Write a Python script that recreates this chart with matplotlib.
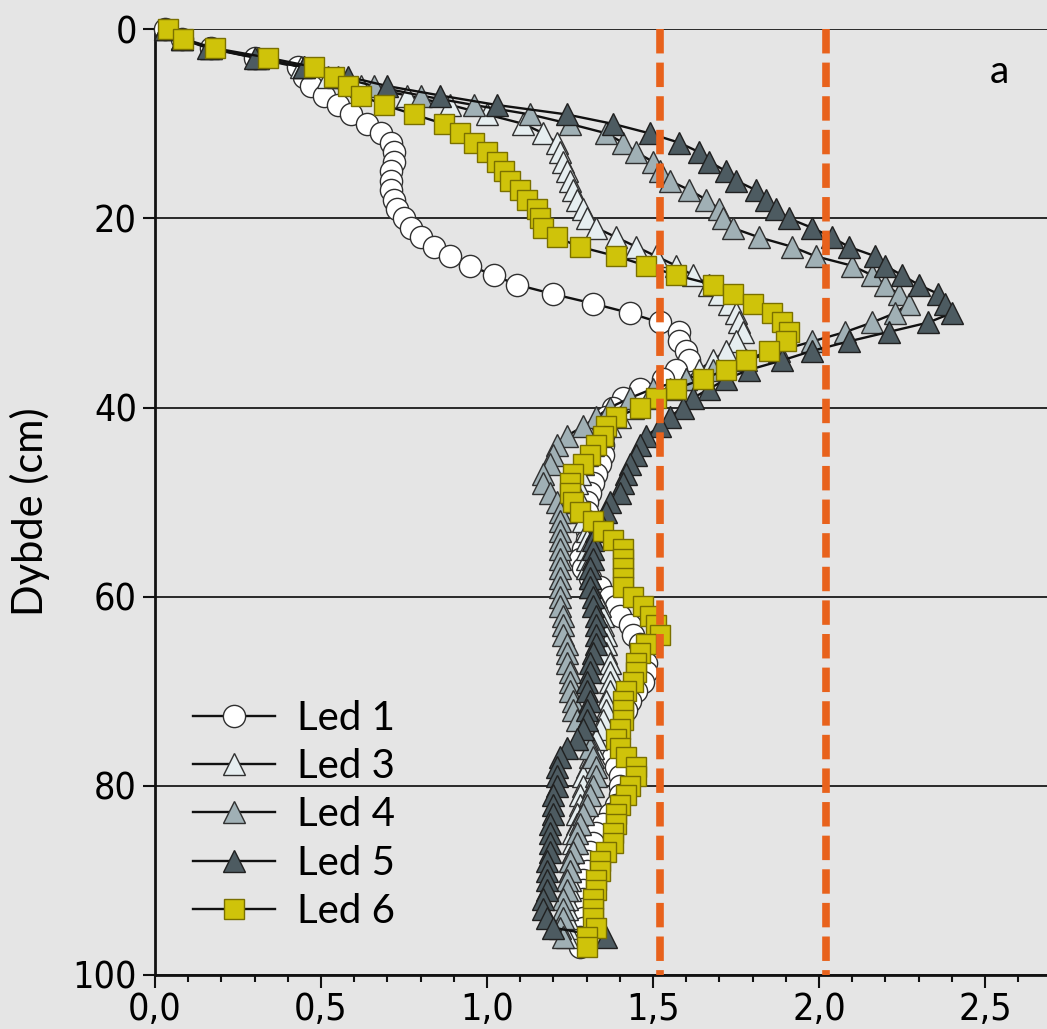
import numpy as np
import matplotlib
matplotlib.use('Agg')
import matplotlib.pyplot as plt
from matplotlib import font_manager
from matplotlib.font_manager import FontProperties
from matplotlib.ticker import MultipleLocator

# --- Data (x per 1 cm depth step) ---
led1 = [0.03, 0.08, 0.17, 0.30, 0.43, 0.45, 0.47, 0.51, 0.55, 0.59,
        0.64, 0.68, 0.71, 0.72, 0.72, 0.71, 0.71, 0.71, 0.72, 0.73,
        0.75, 0.77, 0.80, 0.84, 0.89, 0.95, 1.02, 1.09, 1.20, 1.32,
        1.43, 1.52, 1.58, 1.58, 1.60, 1.61, 1.57, 1.53, 1.46, 1.41,
        1.38, 1.36, 1.35, 1.35, 1.35, 1.35, 1.34, 1.33, 1.32, 1.31,
        1.30, 1.30, 1.30, 1.30, 1.30, 1.29, 1.28, 1.29, 1.31, 1.34,
        1.37, 1.39, 1.40, 1.43, 1.44, 1.46, 1.47, 1.48, 1.48, 1.47,
        1.45, 1.43, 1.42, 1.40, 1.38, 1.38, 1.37, 1.38, 1.39, 1.40,
        1.40, 1.40, 1.39, 1.37, 1.35, 1.33, 1.32, 1.31, 1.30, 1.30,
        1.29, 1.29, 1.29, 1.29, 1.29, 1.29, 1.28, 1.28]

led3 = [0.03, 0.08, 0.17, 0.31, 0.44, 0.52, 0.62, 0.76, 0.89, 1.00,
        1.11, 1.17, 1.21, 1.22, 1.23, 1.24, 1.25, 1.26, 1.27, 1.29,
        1.30, 1.33, 1.39, 1.45, 1.51, 1.57, 1.62, 1.67, 1.70, 1.73,
        1.75, 1.76, 1.77, 1.75, 1.72, 1.68, 1.64, 1.60, 1.55, 1.49,
        1.44, 1.40, 1.37, 1.34, 1.32, 1.30, 1.29, 1.28, 1.27, 1.27,
        1.27, 1.28, 1.29, 1.30, 1.30, 1.30, 1.30, 1.30, 1.31, 1.31,
        1.33, 1.34, 1.35, 1.35, 1.36, 1.36, 1.36, 1.37, 1.37, 1.37,
        1.37, 1.36, 1.36, 1.35, 1.34, 1.33, 1.32, 1.31, 1.30, 1.29,
        1.29, 1.28, 1.28, 1.27, 1.27, 1.26, 1.26, 1.26, 1.25, 1.25,
        1.25, 1.25, 1.24, 1.24, 1.24, 1.24, 1.24]

led4 = [0.03, 0.08, 0.17, 0.31, 0.45, 0.55, 0.66, 0.80, 0.96, 1.13,
        1.25, 1.36, 1.41, 1.45, 1.50, 1.52, 1.55, 1.61, 1.66, 1.70,
        1.71, 1.74, 1.82, 1.92, 1.99, 2.10, 2.16, 2.20, 2.24, 2.27,
        2.23, 2.16, 2.08, 1.98, 1.88, 1.78, 1.68, 1.60, 1.50, 1.43,
        1.37, 1.33, 1.29, 1.24, 1.21, 1.20, 1.19, 1.17, 1.17, 1.19,
        1.21, 1.22, 1.22, 1.22, 1.22, 1.22, 1.22, 1.22, 1.22, 1.22,
        1.22, 1.22, 1.23, 1.23, 1.23, 1.24, 1.24, 1.24, 1.25, 1.25,
        1.25, 1.26, 1.26, 1.27, 1.29, 1.30, 1.31, 1.32, 1.33, 1.33,
        1.32, 1.31, 1.30, 1.29, 1.28, 1.27, 1.27, 1.26, 1.25, 1.25,
        1.24, 1.24, 1.23, 1.23, 1.23, 1.22, 1.23]

led5 = [0.03, 0.08, 0.16, 0.30, 0.45, 0.58, 0.70, 0.86, 1.03, 1.24,
        1.38, 1.49, 1.58, 1.64, 1.67, 1.72, 1.75, 1.81, 1.84, 1.87,
        1.91, 1.98, 2.04, 2.09, 2.17, 2.20, 2.25, 2.30, 2.36, 2.38,
        2.40, 2.33, 2.21, 2.09, 1.98, 1.89, 1.79, 1.72, 1.67, 1.62,
        1.59, 1.55, 1.52, 1.48, 1.46, 1.45, 1.43, 1.42, 1.41, 1.40,
        1.37, 1.36, 1.34, 1.33, 1.32, 1.32, 1.32, 1.31, 1.31, 1.31,
        1.32, 1.32, 1.33, 1.33, 1.33, 1.33, 1.32, 1.31, 1.31, 1.30,
        1.30, 1.31, 1.30, 1.30, 1.29, 1.27, 1.24, 1.22, 1.21, 1.21,
        1.21, 1.20, 1.20, 1.20, 1.19, 1.19, 1.19, 1.19, 1.18, 1.18,
        1.18, 1.18, 1.17, 1.17, 1.18, 1.20, 1.36]

led6 = [0.04, 0.085, 0.18, 0.34, 0.48, 0.54, 0.58, 0.62, 0.69, 0.78,
        0.87, 0.92, 0.96, 1.00, 1.03, 1.05, 1.07, 1.10, 1.12, 1.15,
        1.16, 1.17, 1.21, 1.28, 1.39, 1.48, 1.57, 1.68, 1.74, 1.80,
        1.86, 1.89, 1.91, 1.90, 1.85, 1.78, 1.72, 1.65, 1.57, 1.51,
        1.46, 1.39, 1.36, 1.35, 1.33, 1.31, 1.29, 1.26, 1.25, 1.25,
        1.26, 1.28, 1.32, 1.35, 1.38, 1.41, 1.41, 1.41, 1.41, 1.41,
        1.44, 1.47, 1.49, 1.51, 1.52, 1.48, 1.46, 1.45, 1.45, 1.44,
        1.42, 1.41, 1.41, 1.41, 1.40, 1.39, 1.40, 1.42, 1.45, 1.45,
        1.43, 1.42, 1.40, 1.39, 1.39, 1.38, 1.38, 1.36, 1.34, 1.34,
        1.33, 1.33, 1.32, 1.32, 1.32, 1.33, 1.30, 1.30]

series_labels = ['Led 1', 'Led 3', 'Led 4', 'Led 5', 'Led 6']
reference_x = [1.52, 2.02]

xtick_values = [0.0, 0.5, 1.0, 1.5, 2.0, 2.5]
xtick_labels = ['0,0', '0,5', '1,0', '1,5', '2,0', '2,5']
ytick_values = [0, 20, 40, 60, 80, 100]
ytick_labels = ['0', '20', '40', '60', '80', '100']

# --- Fonts ---
available = {f.name for f in font_manager.fontManager.ttflist}
if 'Liberation Sans Narrow' in available:
    tick_fp = FontProperties(family='Liberation Sans Narrow', size=29)
elif any(f.name == 'DejaVu Sans' and f.stretch == 'condensed' for f in font_manager.fontManager.ttflist):
    tick_fp = FontProperties(family='DejaVu Sans', stretch='condensed', size=27)
else:
    tick_fp = FontProperties(family='Liberation Sans', size=27)
text_family = 'Lato' if 'Lato' in available else 'DejaVu Sans'

BG = '#e5e5e5'

styles = [
    dict(marker='o', mfc='#ffffff', mec='#303030', ms=16),
    dict(marker='^', mfc='#e6eef0', mec='#303030', ms=16),
    dict(marker='^', mfc='#a0b0b5', mec='#303030', ms=16),
    dict(marker='^', mfc='#4d5b61', mec='#202020', ms=16),
    dict(marker='s', mfc='#cfc30a', mec='#7a7000', ms=15),
]

fig = plt.figure(figsize=(10.47, 10.29), dpi=100, facecolor=BG)
ax = fig.add_axes([0.148, 0.0525, 0.852, 0.919], facecolor=BG)

handles = []
for values, label, st in zip([led1, led3, led4, led5, led6], series_labels, styles):
    depth = np.arange(len(values))
    line, = ax.plot(values, depth, color='#111111', lw=1.7, mew=1.0,
                    label=label, clip_on=False, zorder=3, **st)
    handles.append(line)

# reference lines
ax.vlines(reference_x, 0, 100, colors='#e8621c', lw=5.5,
          linestyles=[(0, (3.2, 1.2))], zorder=10)

ax.set_xlim(0, 2.687)
ax.set_ylim(100, 0)

for side in ['top', 'right']:
    ax.spines[side].set_visible(False)
for side in ['left', 'bottom']:
    ax.spines[side].set_linewidth(2)
    ax.spines[side].set_color('#111111')

ax.set_xticks(xtick_values)
ax.set_xticklabels(xtick_labels)
ax.xaxis.set_minor_locator(MultipleLocator(0.1))
ax.set_yticks(ytick_values)
ax.set_yticklabels(ytick_labels)
ax.set_axisbelow(True)
ax.yaxis.grid(True, color='#1a1a1a', linewidth=1.3)

ax.tick_params(axis='x', which='major', length=9, width=1.5, pad=3, color='#111111')
ax.tick_params(axis='x', which='minor', length=5, width=1.5, color='#111111')
ax.tick_params(axis='y', which='major', length=9, width=1.5, pad=4, color='#111111')
for lbl in ax.get_xticklabels() + ax.get_yticklabels():
    lbl.set_fontproperties(tick_fp)

ax.set_ylabel('Dybde (cm)', family=text_family, fontsize=30)
ax.yaxis.set_label_coords(-0.118, 0.49)

ax.text(0.947, 0.955, 'a', transform=ax.transAxes, family=text_family,
        fontsize=28, ha='center', va='center')

ax.legend(handles=handles, loc='upper left', bbox_to_anchor=(0.0426, 0.291),
          frameon=False, prop=FontProperties(family=text_family, size=29),
          handlelength=2.03, handletextpad=0.55, labelspacing=0.28,
          borderpad=0, borderaxespad=0)

fig.savefig('out.png', dpi=100, facecolor=BG)
